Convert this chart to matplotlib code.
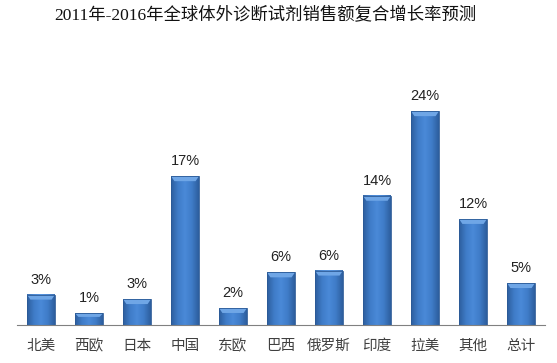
import matplotlib
matplotlib.use("Agg")
import matplotlib.pyplot as plt
import numpy as np
from matplotlib.colors import LinearSegmentedColormap

categories = ["北美", "西欧", "日本", "中国", "东欧", "巴西", "俄罗斯", "印度", "拉美", "其他", "总计"]
growth = [3.4, 1.3, 2.9, 16.7, 1.9, 5.9, 6.1, 14.5, 24.0, 11.9, 4.7]

plt.rcParams['font.family'] = ['Noto Sans CJK SC', 'DejaVu Sans']

fig = plt.figure(figsize=(5.57, 3.63), dpi=100)
ax = fig.add_axes([17/557, 38/363, 528/557, 285/363])

x = np.arange(len(categories))
width = 0.58
bars = ax.bar(x, growth, width=width, color="none", edgecolor="#2B5A96", linewidth=0.6, zorder=3)

cmap = LinearSegmentedColormap.from_list("b", ["#2D5E9E", "#3F7CC8", "#4A8AD8", "#3F7CC8", "#2D5E9E"])
grad = np.linspace(0, 1, 64).reshape(1, -1)
for b in bars:
    x0, y0 = b.get_x(), b.get_y()
    w, h = b.get_width(), b.get_height()
    ax.imshow(grad, extent=[x0, x0 + w, y0, y0 + h], aspect="auto", cmap=cmap, zorder=2, interpolation="bilinear")
    cap = min(0.55, h * 0.3)
    ax.fill([x0, x0 + w, x0 + w * 0.88, x0 + w * 0.12], [y0 + h, y0 + h, y0 + h - cap, y0 + h - cap],
            color="#6FA6E6", zorder=2.5, lw=0)
    ax.text(x0 + w / 2, y0 + h + 0.9, f"{b.get_height():.0f}%", ha="center", va="bottom",
            fontsize=10.5, color="#222222", family=["Liberation Sans", "DejaVu Sans"])

ax.set_xlim(-0.5, len(categories) - 0.5)
ax.set_ylim(0, 32)
ax.set_xticks(x)
ax.set_xticklabels(categories, fontsize=10.5, color="#404040", fontweight="light")
ax.tick_params(axis="x", length=0, pad=10)
ax.set_yticks([])
for s in ["top", "right", "left"]:
    ax.spines[s].set_visible(False)
ax.spines["bottom"].set_color("#808080")
ax.spines["bottom"].set_linewidth(0.8)

fig.text(0.476, 1 - 16/363, "2011年-2016年全球体外诊断试剂销售额复合增长率预测", ha="center", va="center",
         fontsize=12.5, color="#111111", fontweight="light",
         family=["Liberation Serif", "Noto Sans CJK SC"])

fig.savefig("out.png", dpi=100)
